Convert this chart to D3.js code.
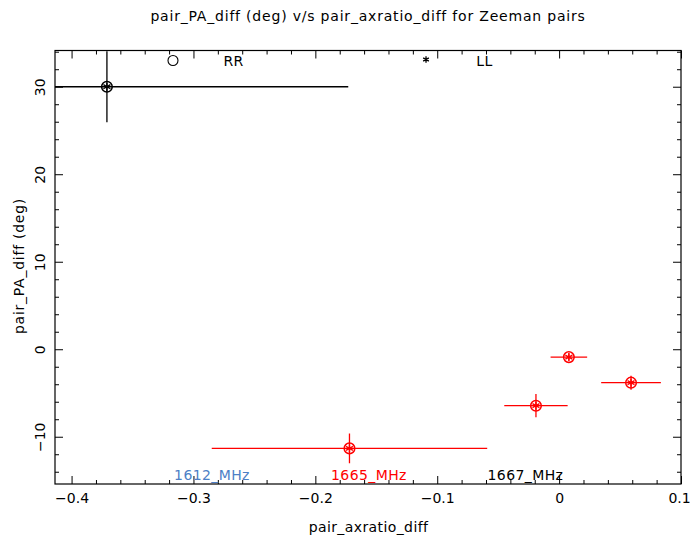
<!DOCTYPE html>
<html>
<head>
<meta charset="utf-8">
<script src="https://cdn.jsdelivr.net/npm/d3@7"></script>
<style>
  html, body { margin: 0; padding: 0; background: #fff; }
  svg text { font-family: "DejaVu Sans", sans-serif; }
</style>
</head>
<body>
<svg id="chart" width="691" height="539"></svg>
<script>
// ---- data ----
const pointX    = [-0.371, -0.172, -0.019, 0.008, 0.059];
const pointY    = [30.0, -11.33, -6.45, -0.9, -3.82];
const xErr      = [0.198, 0.113, 0.026, 0.015, 0.0245];
const yErr      = [4.05, 1.7, 1.33, 0.4, 0.8];
const pointFreq = ["1667_MHz", "1665_MHz", "1665_MHz", "1665_MHz", "1665_MHz"];

const freqLabels = ["1612_MHz", "1665_MHz", "1667_MHz"];
const freqColors = ["#4d7fc6", "#ff0000", "#000000"];
const freqLabelX = [-0.2848, -0.1560, -0.0276];

const legendLabels = ["RR", "LL"];
const legendSymbolX = [-0.3168, -0.1092];
const legendTextX = [-0.2671, -0.0612];

const xMajorTicks = [-0.4, -0.3, -0.2, -0.1, 0, 0.1];
const yMajorTicks = [-10, 0, 10, 20, 30];
const xMinorTicks = d3.range(-0.40, 0.1001, 0.02).map(v => +v.toFixed(2)).filter(v => !xMajorTicks.some(m => Math.abs(m - v) < 1e-9));
const yMinorTicks = d3.range(-14, 34.1, 2).filter(v => v % 10 !== 0);

const titleText = "pair_PA_diff (deg) v/s pair_axratio_diff for Zeeman pairs";
const xLabelText = "pair_axratio_diff";
const yLabelText = "pair_PA_diff (deg)";

// ---- layout ----
const L = 55, R = 681, T = 50.5, B = 484;
const FS = 14;
const svg = d3.select("#chart");
const x = d3.scaleLinear().domain([-0.4136, 0.1]).range([L, R]);
const y = d3.scaleLinear().domain([-15.4, 34.14]).range([B, T]);
const colorOf = d3.scaleOrdinal().domain(freqLabels).range(freqColors);

const fmtX = v => (v === 0 ? "0" : d3.format(".1f")(v).replace("-", "\u2212"));
const fmtY = v => d3.format("d")(v).replace("-", "\u2212");

svg.append("defs").append("clipPath").attr("id", "clip")
  .append("rect").attr("x", L).attr("y", T).attr("width", R - L).attr("height", B - T);

// axes frame
svg.append("rect").attr("x", L).attr("y", T).attr("width", R - L).attr("height", B - T)
  .attr("fill", "none").attr("stroke", "#000").attr("stroke-width", 1.2);

function styleAxis(g) {
  g.select(".domain").remove();
  g.selectAll("line").attr("stroke", "#000").attr("stroke-width", 1);
  g.selectAll("text").attr("font-size", FS).attr("fill", "#000")
    .attr("font-family", "DejaVu Sans, sans-serif");
}

// bottom
const gb = svg.append("g").attr("transform", `translate(0,${B})`)
  .call(d3.axisBottom(x).tickValues(xMajorTicks).tickSizeInner(-8).tickSizeOuter(0).tickPadding(9).tickFormat(fmtX))
  .call(styleAxis);
// keep the last label (at the right frame edge) inside the page
gb.selectAll(".tick text").filter(d => d === 0.1).attr("dx", -2);
svg.append("g").attr("transform", `translate(0,${B})`)
  .call(d3.axisBottom(x).tickValues(xMinorTicks).tickSizeInner(-4).tickSizeOuter(0).tickFormat(""))
  .call(styleAxis);
// top
svg.append("g").attr("transform", `translate(0,${T})`)
  .call(d3.axisTop(x).tickValues(xMajorTicks).tickSizeInner(-8).tickSizeOuter(0).tickFormat(""))
  .call(styleAxis);
svg.append("g").attr("transform", `translate(0,${T})`)
  .call(d3.axisTop(x).tickValues(xMinorTicks).tickSizeInner(-4).tickSizeOuter(0).tickFormat(""))
  .call(styleAxis);
// left
const gl = svg.append("g").attr("transform", `translate(${L},0)`)
  .call(d3.axisLeft(y).tickValues(yMajorTicks).tickSizeInner(-8).tickSizeOuter(0).tickPadding(10).tickFormat(fmtY))
  .call(styleAxis);
gl.selectAll(".tick text")
  .attr("transform", "rotate(-90)")
  .attr("x", 0).attr("y", -10).attr("dy", 0)
  .attr("text-anchor", "middle");
svg.append("g").attr("transform", `translate(${L},0)`)
  .call(d3.axisLeft(y).tickValues(yMinorTicks).tickSizeInner(-4).tickSizeOuter(0).tickFormat(""))
  .call(styleAxis);
// right
svg.append("g").attr("transform", `translate(${R},0)`)
  .call(d3.axisRight(y).tickValues(yMajorTicks).tickSizeInner(-8).tickSizeOuter(0).tickFormat(""))
  .call(styleAxis);
svg.append("g").attr("transform", `translate(${R},0)`)
  .call(d3.axisRight(y).tickValues(yMinorTicks).tickSizeInner(-4).tickSizeOuter(0).tickFormat(""))
  .call(styleAxis);

// data
const pts = pointX.map((v, i) => ({ x: v, y: pointY[i], ex: xErr[i], ey: yErr[i], f: pointFreq[i] }));
const plot = svg.append("g").attr("clip-path", "url(#clip)");

plot.selectAll("line.xe").data(pts).join("line").attr("class", "xe")
  .attr("x1", d => x(d.x - d.ex)).attr("x2", d => x(d.x + d.ex))
  .attr("y1", d => y(d.y)).attr("y2", d => y(d.y))
  .attr("stroke", d => colorOf(d.f)).attr("stroke-width", 1.3);
plot.selectAll("line.ye").data(pts).join("line").attr("class", "ye")
  .attr("x1", d => x(d.x)).attr("x2", d => x(d.x))
  .attr("y1", d => y(d.y - d.ey)).attr("y2", d => y(d.y + d.ey))
  .attr("stroke", d => colorOf(d.f)).attr("stroke-width", 1.3);

const ast = d3.symbol().type(d3.symbolAsterisk).size(45);
plot.selectAll("circle.m").data(pts).join("circle").attr("class", "m")
  .attr("cx", d => x(d.x)).attr("cy", d => y(d.y)).attr("r", 5.3)
  .attr("fill", "none").attr("stroke", d => colorOf(d.f)).attr("stroke-width", 1.5);
plot.selectAll("path.m").data(pts).join("path").attr("class", "m")
  .attr("d", ast).attr("transform", d => `translate(${x(d.x)},${y(d.y)})`)
  .attr("fill", "none").attr("stroke", d => colorOf(d.f)).attr("stroke-width", 1.4);

// legend (top)
svg.append("circle").attr("cx", x(legendSymbolX[0])).attr("cy", 60.5).attr("r", 5)
  .attr("fill", "none").attr("stroke", "#000").attr("stroke-width", 1.1);
svg.append("path").attr("d", d3.symbol().type(d3.symbolAsterisk).size(30))
  .attr("transform", `translate(${x(legendSymbolX[1])},59.5)`)
  .attr("fill", "none").attr("stroke", "#000").attr("stroke-width", 1.3);
svg.selectAll("text.leg").data(legendLabels).join("text").attr("class", "leg")
  .attr("x", (d, i) => x(legendTextX[i])).attr("y", 66)
  .attr("text-anchor", "middle").attr("font-size", FS).attr("fill", "#000")
  .attr("letter-spacing", 0.4)
  .text(d => d);

// frequency labels (bottom)
svg.selectAll("text.freq").data(freqLabels).join("text").attr("class", "freq")
  .attr("x", (d, i) => x(freqLabelX[i])).attr("y", 479.5)
  .attr("text-anchor", "middle").attr("font-size", FS)
  .attr("letter-spacing", 0.4)
  .attr("fill", (d, i) => freqColors[i])
  .text(d => d);

// titles
svg.append("text").attr("x", 368).attr("y", 21).attr("text-anchor", "middle")
  .attr("font-size", FS).attr("letter-spacing", 0.8).attr("fill", "#000").text(titleText);
svg.append("text").attr("x", 368.5).attr("y", 532).attr("text-anchor", "middle")
  .attr("font-size", FS).attr("letter-spacing", 0.4).attr("fill", "#000").text(xLabelText);
svg.append("text").attr("transform", "translate(24,266) rotate(-90)").attr("text-anchor", "middle")
  .attr("font-size", FS).attr("letter-spacing", 0.75).attr("fill", "#000").text(yLabelText);
</script>
</body>
</html>
